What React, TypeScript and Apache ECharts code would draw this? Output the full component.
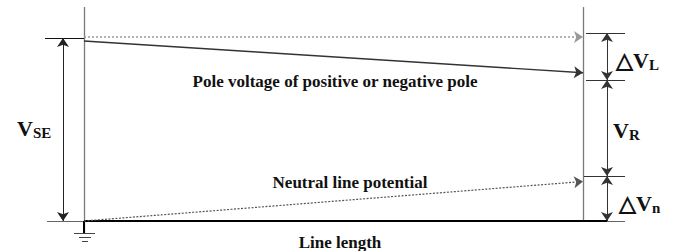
import React, { useEffect, useRef } from "react";
import * as echarts from "echarts";

// ---- data (normalised line length 0..1, voltage in p.u. of V_SE) ----
const lengthPoints = [0, 1];
const referencePoleVoltage = [1.005, 1.005]; // lossless pole voltage (dotted)
const poleVoltage = [0.984, 0.81]; // pole voltage of positive / negative pole
const neutralVoltage = [0.0, 0.216]; // neutral line potential
const sendingVoltage = 1.0; // V_SE
const rightLevels = [1.027, 0.77, 0.246, 0.0]; // boundaries of ΔV_L, V_R, ΔV_n
const axisTop = 1.169;
const labelPole = "Pole voltage of positive or negative pole";
const labelNeutral = "Neutral line potential";
const labelLength = "Line length";

// ---- layout (pixels) ----
const W = 677;
const H = 251;
const X0 = 84; // pixel of length 0
const X1 = 583; // pixel of length 1
const Y0 = 221; // pixel of voltage 0
const Y1 = 38; // pixel of V_SE
const FONT = "Liberation Serif";

export default function App() {
  const ref = useRef<HTMLDivElement>(null);
  useEffect(() => {
    document.body.style.margin = "0";
    if (!ref.current) return;
    const chart = echarts.init(ref.current, null, { renderer: "svg" });
    const xu = X1 - X0;
    const yu = Y0 - Y1;
    const xMin = -X0 / xu;
    const xMax = 1 + (W - X1) / xu;
    const yMax = Y0 / yu;
    const yMin = -(H - Y0) / yu;
    const px = (p: number) => (p - X0) / xu; // pixel -> length units (for annotation offsets)
    const pv = (p: number) => (Y0 - p) / yu;

    const L = lengthPoints;
    const lineSeries = (
      name: string,
      segs: number[][][],
      style: any,
      symbol: any = ["none", "none"],
      symbolSize = 8
    ) => ({
      type: "lines",
      name,
      coordinateSystem: "cartesian2d",
      silent: true,
      clip: false,
      symbol,
      symbolSize,
      lineStyle: { opacity: 1, curveness: 0, ...style },
      itemStyle: { color: style.color },
      data: segs.map((c) => ({ coords: c })),
      z: 3,
    });

    const arrowX = px(607);
    const tickL = px(586);
    const tickR = px(625);

    const series: any[] = [
      lineSeries(
        "ends",
        [
          [[L[0], pv(233)], [L[0], axisTop]],
          [[L[1], 0], [L[1], axisTop]],
        ],
        { color: "#7a7a7a", width: 1.3 }
      ),
      lineSeries("base", [[[L[0], 0], [arrowX, 0]]], { color: "#000", width: 2 }),
      lineSeries(
        "baseThin",
        [
          [[px(47), 0], [L[0], 0]],
          [[arrowX, 0], [tickR, 0]],
        ],
        { color: "#666", width: 1 }
      ),
      lineSeries("groundStem", [[[L[0], 0], [L[0], pv(233)]]], { color: "#000", width: 2 }),
      lineSeries(
        "ground",
        [
          [[px(74), pv(233)], [px(95), pv(233)]],
          [[px(79), pv(237.5)], [px(91), pv(237.5)]],
          [[px(82), pv(241.5)], [px(88), pv(241.5)]],
        ],
        { color: "#444", width: 1 }
      ),
      lineSeries(
        "reference",
        [[[L[0], referencePoleVoltage[0]], [L[1], referencePoleVoltage[1]]]],
        { color: "#999", width: 1.6, type: [2, 2] },
        ["none", "arrow"],
        9
      ),
      lineSeries(
        "pole",
        [[[L[0], poleVoltage[0]], [L[1], poleVoltage[1]]]],
        { color: "#333", width: 1.4 },
        ["none", "arrow"],
        9
      ),
      lineSeries(
        "neutral",
        [[[L[0], neutralVoltage[0]], [L[1], neutralVoltage[1]]]],
        { color: "#555", width: 1.2, type: [2, 1.5] },
        ["none", "arrow"],
        9
      ),
      lineSeries(
        "vseTicks",
        [[[px(45), sendingVoltage], [L[0], sendingVoltage]]],
        { color: "#111", width: 1.2 }
      ),
      lineSeries(
        "vse",
        [[[px(63), sendingVoltage], [px(63), 0]]],
        { color: "#222", width: 1 },
        ["arrow", "arrow"],
        9
      ),
      lineSeries(
        "rightTicks",
        rightLevels.slice(0, 3).map((v, i) => [[i === 2 ? px(584) : tickL, v], [tickR, v]]),
        { color: "#333", width: 1 }
      ),
      lineSeries(
        "rightDims",
        rightLevels.slice(0, 3).map((v, i) => [[arrowX, v], [arrowX, rightLevels[i + 1]]]),
        { color: "#333", width: 1 },
        ["arrow", "arrow"],
        9
      ),
    ];

    const bold = { fontFamily: FONT, fontWeight: "bold", fill: "#111" };
    const dimText = (x: number, y: number, pre: string, sub: string) => ({
      type: "text",
      x,
      y,
      style: {
        text: `{m|${pre}}{s|${sub}}`,
        verticalAlign: "middle",
        rich: {
          m: { fontFamily: FONT, fontWeight: "bold", fontSize: 22, fill: "#111" },
          s: {
            fontFamily: FONT,
            fontWeight: "bold",
            fontSize: 15,
            fill: "#111",
            padding: [9, 0, 0, 0],
          },
        },
      },
    });

    chart.setOption({
      animation: false,
      grid: { left: 0, right: 0, top: 0, bottom: 0 },
      xAxis: { type: "value", min: xMin, max: xMax, show: false },
      yAxis: { type: "value", min: yMin, max: yMax, show: false },
      series,
      graphic: [
        {
          type: "text",
          x: 335,
          y: 81,
          style: { ...bold, text: labelPole, fontSize: 17, align: "center", verticalAlign: "middle" },
        },
        {
          type: "text",
          x: 350,
          y: 182,
          style: { ...bold, text: labelNeutral, fontSize: 17, align: "center", verticalAlign: "middle" },
        },
        {
          type: "text",
          x: 340,
          y: 242,
          style: { ...bold, text: labelLength, fontSize: 17, align: "center", verticalAlign: "middle" },
        },
        dimText(17, 128, "V", "SE"),
        dimText(616, 60, "△V", "L"),
        dimText(613, 130, "V", "R"),
        dimText(619, 203, "△V", "n"),
      ],
    });
    return () => chart.dispose();
  }, []);
  return <div ref={ref} style={{ width: W, height: H }} />;
}
